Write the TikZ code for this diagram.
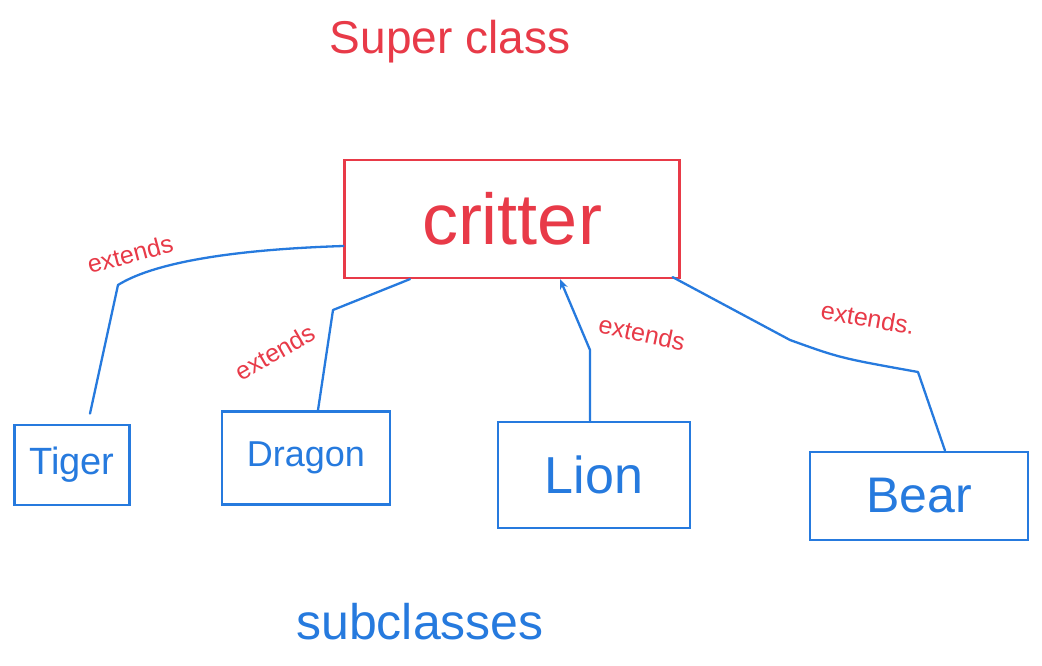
\documentclass[tikz,border=0pt]{standalone}
\usepackage{fontspec}
\setmainfont{Liberation Sans}
\usetikzlibrary{arrows.meta}
\definecolor{inkred}{RGB}{232,58,72}
\definecolor{inkblue}{RGB}{38,122,222}
\tikzset{
  superbox/.style={draw=inkred, line width=2.2pt, text=inkred, inner sep=0pt},
  subbox/.style={draw=inkblue, line width=2.8pt, text=inkblue, inner sep=0pt},
  link/.style={draw=inkblue, line width=2.3pt, line join=round, line cap=round},
  extlabel/.style={text=inkred, font=\fontsize{25}{27}\selectfont, inner sep=0pt},
}
\begin{document}
\begin{tikzpicture}[x=1pt,y=-1pt]
\useasboundingbox[fill=white] (0,0) rectangle (1042,666);
\node[text=inkred, font=\fontsize{46}{50}\selectfont] (super) at (450,42) {Super class};
\node[superbox, minimum width=335, minimum height=118, font=\fontsize{72}{76}\selectfont] (critter) at (512,219) {critter};
\node[subbox, minimum width=115, minimum height=80, font=\fontsize{38}{42}\selectfont] (tiger) at (72,465) {Tiger};
\node[subbox, minimum width=168, minimum height=93, font=\fontsize{36}{40}\selectfont] (dragon) at (306,458) {Dragon};
\node[subbox, minimum width=192, minimum height=106, font=\fontsize{52}{56}\selectfont] (lion) at (594,475) {Lion};
\node[subbox, minimum width=218, minimum height=88, font=\fontsize{50}{54}\selectfont] (bear) at (919,496) {Bear};
\node[text=inkblue, font=\fontsize{50}{54}\selectfont] (sub) at (420,622) {subclasses};
% connectors
\draw[link] ([yshift=-27pt]critter.west) .. controls (220,250) and (150,265) .. (118,285) -- ([xshift=18pt,yshift=10pt]tiger.north);
\draw[link] ([xshift=-102pt]critter.south) -- (333,310) -- ([xshift=12pt]dragon.north);
\draw[link,-{Stealth[length=10pt,width=8pt]}] ([xshift=-4pt]lion.north) -- (590,350) -- ([xshift=48pt]critter.south);
\draw[link] ([xshift=-8pt,yshift=2pt]critter.south east) -- (790,340) .. controls (840,358) .. (918,372) -- ([xshift=26pt]bear.north);
% labels
\node[extlabel, rotate=15] (l1) at (130,254) {extends};
\node[extlabel, rotate=30] (l2) at (275,352) {extends};
\node[extlabel, rotate=-12] (l3) at (642,333) {extends};
\node[extlabel, rotate=-10] (l4) at (868,318) {extends.};
\end{tikzpicture}
\end{document}
